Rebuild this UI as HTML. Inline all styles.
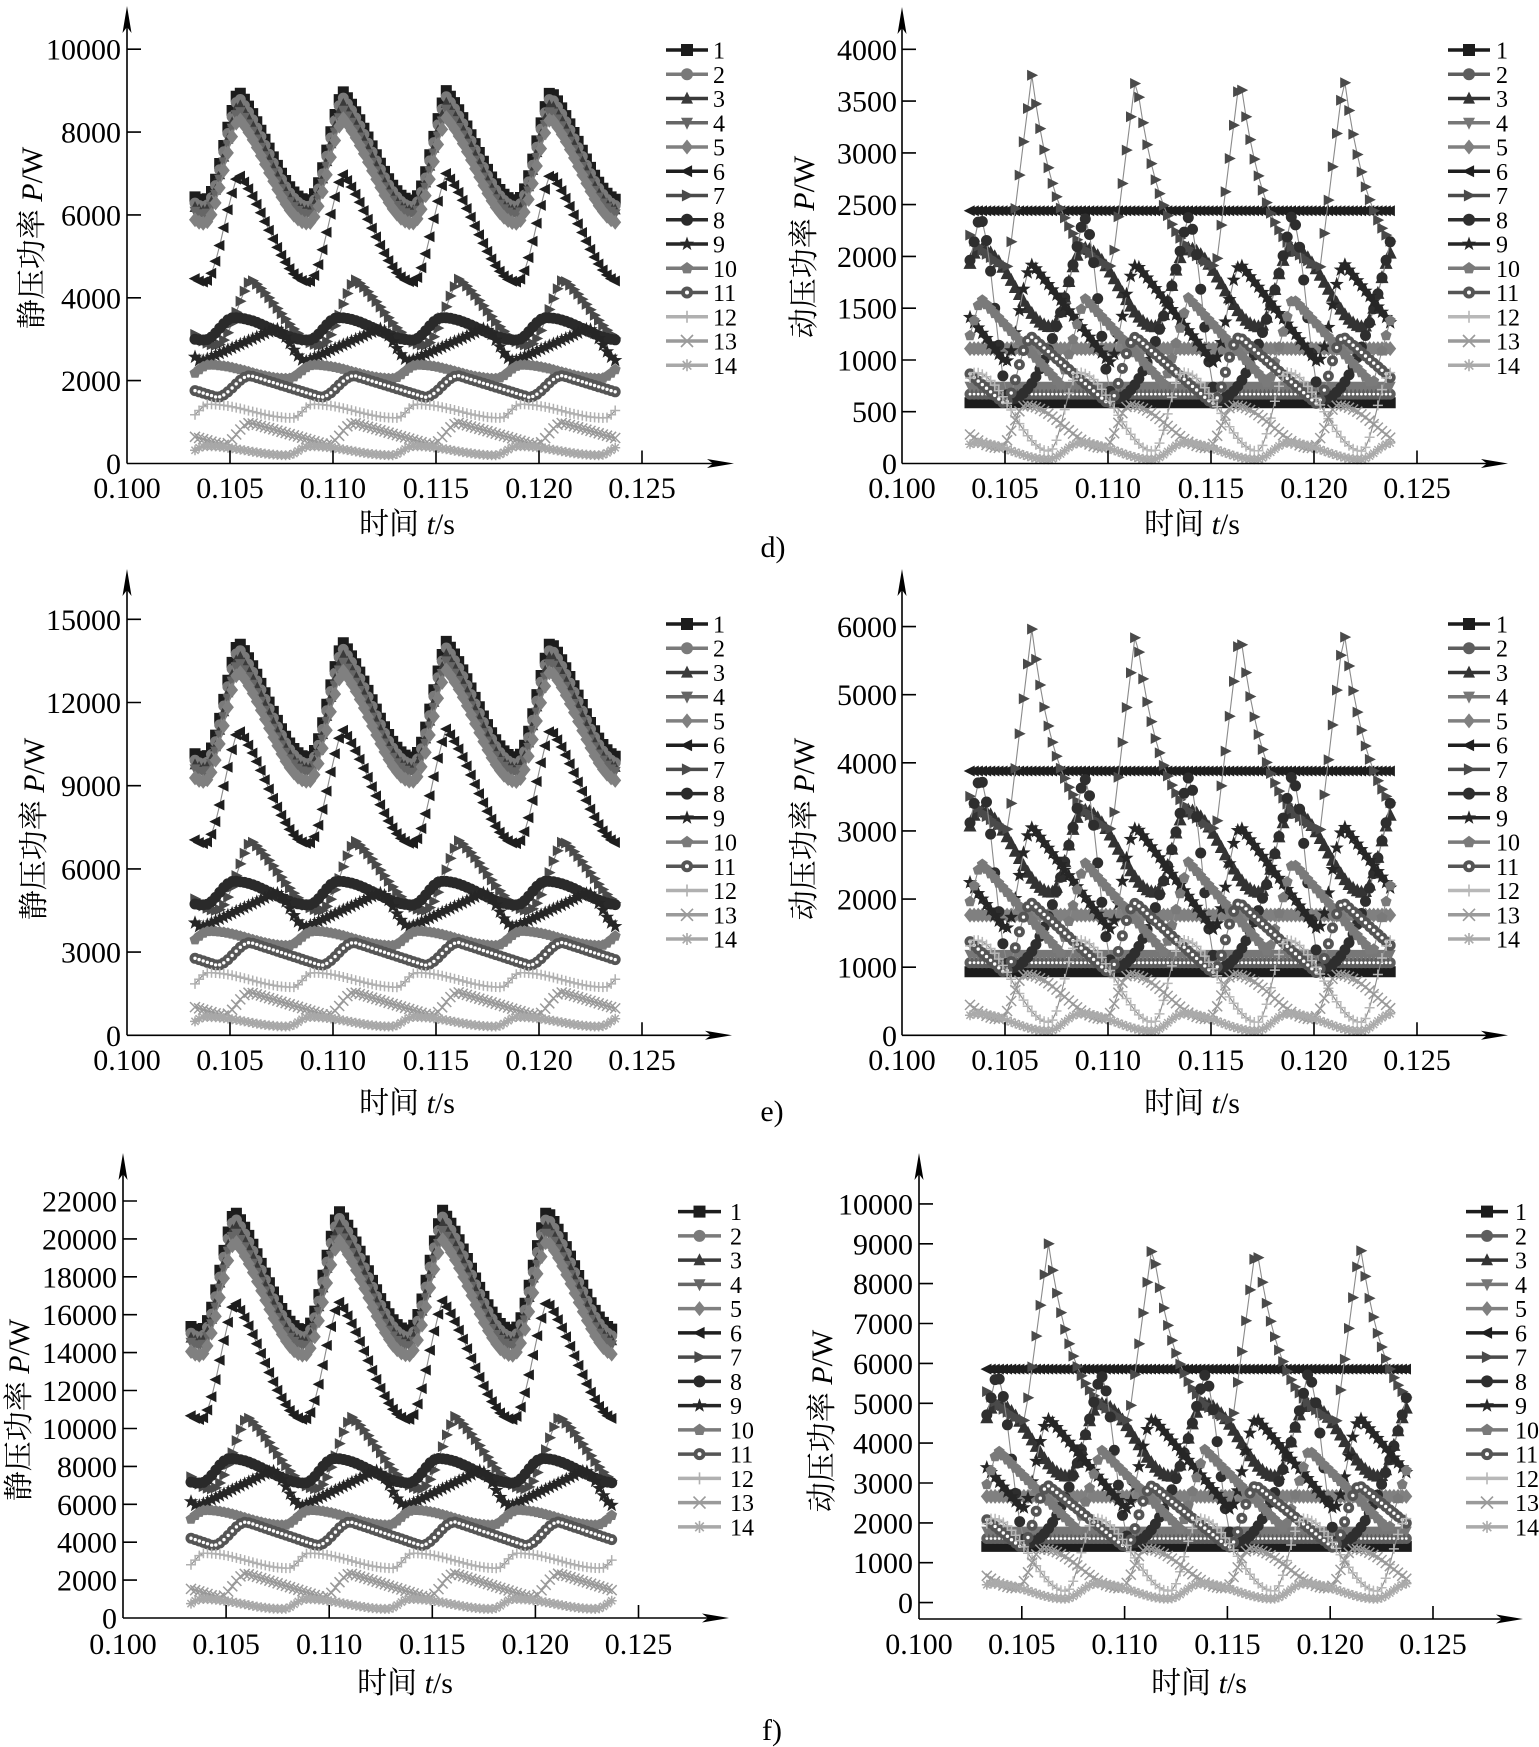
<!DOCTYPE html>
<html><head><meta charset="utf-8">
<style>
html,body{margin:0;padding:0;background:#fff}
svg{display:block}
text{font-family:"Liberation Serif","Noto Serif CJK SC",serif;fill:#000}
</style></head>
<body>
<svg id="s" width="1539" height="1747" viewBox="0 0 1539 1747" xmlns="http://www.w3.org/2000/svg" font-family="'Liberation Serif','Noto Serif CJK SC',serif">
<rect width="1539" height="1747" fill="#fff"/>
<g id="data"></g>

<!-- AXES -->
<g stroke="#000" stroke-width="1.6" fill="none">
<path d="M127 463.5V20M127 463.5H716"/>
<path d="M127 49.2h14M127 132.1h14M127 214.9h14M127 297.8h14M127 380.6h14M230 463.5v-13M333 463.5v-13M436 463.5v-13M539 463.5v-13M642 463.5v-13"/>
<path d="M902 463.5V20M902 463.5H1490"/>
<path d="M902 49.3h14M902 101.1h14M902 152.9h14M902 204.6h14M902 256.4h14M902 308.2h14M902 360h14M902 411.7h14M1005 463.5v-13M1108 463.5v-13M1211 463.5v-13M1314 463.5v-13M1417 463.5v-13"/>
<path d="M127 1035.3V583M127 1035.3H714"/>
<path d="M127 619.3h14M127 702.5h14M127 785.7h14M127 868.9h14M127 952.1h14M230 1035.3v-13M333 1035.3v-13M436 1035.3v-13M539 1035.3v-13M642 1035.3v-13"/>
<path d="M902 1035.3V583M902 1035.3H1490"/>
<path d="M902 626.6h14M902 694.7h14M902 762.8h14M902 830.9h14M902 899.1h14M902 967.2h14M1005 1035.3v-13M1108 1035.3v-13M1211 1035.3v-13M1314 1035.3v-13M1417 1035.3v-13"/>
<path d="M123 1618V1167M123 1618H711"/>
<path d="M123 1201h14M123 1238.9h14M123 1276.8h14M123 1314.7h14M123 1352.6h14M123 1390.5h14M123 1428.5h14M123 1466.4h14M123 1504.3h14M123 1542.2h14M123 1580.1h14M226.1 1618v-13M329.2 1618v-13M432.3 1618v-13M535.4 1618v-13M638.5 1618v-13"/>
<path d="M919 1619V1167M919 1619H1505"/>
<path d="M919 1203.9h14M919 1243.8h14M919 1283.6h14M919 1323.5h14M919 1363.4h14M919 1403.3h14M919 1443.1h14M919 1483h14M919 1522.9h14M919 1562.7h14M919 1602.6h14M1021.8 1619v-13M1124.6 1619v-13M1227.4 1619v-13M1330.2 1619v-13M1433 1619v-13"/>
</g>
<g fill="#000" stroke="none">
<polygon points="127,6 131.5,33 127,27 122.5,33"/>
<polygon points="734,463.5 707,459 713,463.5 707,468"/>
<polygon points="902,7 906.5,34 902,28 897.5,34"/>
<polygon points="1508,463.5 1481,459 1487,463.5 1481,468"/>
<polygon points="127,569 131.5,596 127,590 122.5,596"/>
<polygon points="732,1035.3 705,1030.8 711,1035.3 705,1039.8"/>
<polygon points="902,569 906.5,596 902,590 897.5,596"/>
<polygon points="1508,1035.3 1481,1030.8 1487,1035.3 1481,1039.8"/>
<polygon points="123,1153 127.5,1180 123,1174 118.5,1180"/>
<polygon points="729,1618 702,1613.5 708,1618 702,1622.5"/>
<polygon points="919,1153 923.5,1180 919,1174 914.5,1180"/>
<polygon points="1523,1619 1496,1614.5 1502,1619 1496,1623.5"/>
</g>

<!-- Y TICK LABELS -->
<g font-size="30" text-anchor="end">
<text x="121" y="59.7">10000</text><text x="121" y="142.6">8000</text><text x="121" y="225.4">6000</text><text x="121" y="308.3">4000</text><text x="121" y="391.1">2000</text><text x="121" y="474">0</text>
<text x="897" y="59.8">4000</text><text x="897" y="111.6">3500</text><text x="897" y="163.4">3000</text><text x="897" y="215.1">2500</text><text x="897" y="266.9">2000</text><text x="897" y="318.7">1500</text><text x="897" y="370.5">1000</text><text x="897" y="422.2">500</text><text x="897" y="474">0</text>
<text x="121" y="629.8">15000</text><text x="121" y="713">12000</text><text x="121" y="796.2">9000</text><text x="121" y="879.4">6000</text><text x="121" y="962.6">3000</text><text x="121" y="1045.8">0</text>
<text x="897" y="637.1">6000</text><text x="897" y="705.2">5000</text><text x="897" y="773.3">4000</text><text x="897" y="841.4">3000</text><text x="897" y="909.6">2000</text><text x="897" y="977.7">1000</text><text x="897" y="1045.8">0</text>
<text x="117" y="1211.5">22000</text><text x="117" y="1249.4">20000</text><text x="117" y="1287.3">18000</text><text x="117" y="1325.2">16000</text><text x="117" y="1363.1">14000</text><text x="117" y="1401">12000</text><text x="117" y="1439">10000</text><text x="117" y="1476.9">8000</text><text x="117" y="1514.8">6000</text><text x="117" y="1552.7">4000</text><text x="117" y="1590.6">2000</text><text x="117" y="1628.5">0</text>
<text x="913" y="1214.4">10000</text><text x="913" y="1254.3">9000</text><text x="913" y="1294.1">8000</text><text x="913" y="1334">7000</text><text x="913" y="1373.9">6000</text><text x="913" y="1413.8">5000</text><text x="913" y="1453.6">4000</text><text x="913" y="1493.5">3000</text><text x="913" y="1533.4">2000</text><text x="913" y="1573.2">1000</text><text x="913" y="1613.1">0</text>
</g>

<!-- X TICK LABELS -->
<g font-size="30" text-anchor="middle">
<text x="127" y="498">0.100</text><text x="230" y="498">0.105</text><text x="333" y="498">0.110</text><text x="436" y="498">0.115</text><text x="539" y="498">0.120</text><text x="642" y="498">0.125</text>
<text x="902" y="498">0.100</text><text x="1005" y="498">0.105</text><text x="1108" y="498">0.110</text><text x="1211" y="498">0.115</text><text x="1314" y="498">0.120</text><text x="1417" y="498">0.125</text>
<text x="127" y="1070">0.100</text><text x="230" y="1070">0.105</text><text x="333" y="1070">0.110</text><text x="436" y="1070">0.115</text><text x="539" y="1070">0.120</text><text x="642" y="1070">0.125</text>
<text x="902" y="1070">0.100</text><text x="1005" y="1070">0.105</text><text x="1108" y="1070">0.110</text><text x="1211" y="1070">0.115</text><text x="1314" y="1070">0.120</text><text x="1417" y="1070">0.125</text>
<text x="123" y="1654">0.100</text><text x="226.1" y="1654">0.105</text><text x="329.2" y="1654">0.110</text><text x="432.3" y="1654">0.115</text><text x="535.4" y="1654">0.120</text><text x="638.5" y="1654">0.125</text>
<text x="919" y="1654">0.100</text><text x="1021.8" y="1654">0.105</text><text x="1124.6" y="1654">0.110</text><text x="1227.4" y="1654">0.115</text><text x="1330.2" y="1654">0.120</text><text x="1433" y="1654">0.125</text>
</g>

<!-- AXIS TITLES -->
<g font-size="30" text-anchor="middle">
<text x="407" y="534">时间 <tspan font-style="italic">t</tspan>/s</text>
<text x="1192" y="534">时间 <tspan font-style="italic">t</tspan>/s</text>
<text x="407" y="1113">时间 <tspan font-style="italic">t</tspan>/s</text>
<text x="1192" y="1113">时间 <tspan font-style="italic">t</tspan>/s</text>
<text x="405" y="1693">时间 <tspan font-style="italic">t</tspan>/s</text>
<text x="1199" y="1693">时间 <tspan font-style="italic">t</tspan>/s</text>
<text transform="translate(42,238) rotate(-90)">静压功率 <tspan font-style="italic">P</tspan>/W</text>
<text transform="translate(44,829) rotate(-90)">静压功率 <tspan font-style="italic">P</tspan>/W</text>
<text transform="translate(29,1410) rotate(-90)">静压功率 <tspan font-style="italic">P</tspan>/W</text>
<text transform="translate(814,247) rotate(-90)">动压功率 <tspan font-style="italic">P</tspan>/W</text>
<text transform="translate(814,829) rotate(-90)">动压功率 <tspan font-style="italic">P</tspan>/W</text>
<text transform="translate(832,1421) rotate(-90)">动压功率 <tspan font-style="italic">P</tspan>/W</text>
<text x="773" y="557">d)</text>
<text x="772" y="1121">e)</text>
<text x="772" y="1740">f)</text>
</g>

<!-- LEGEND NUMBERS -->
<g font-size="24">
<text><tspan x="713" y="58.5">1</tspan><tspan x="713" y="82.75">2</tspan><tspan x="713" y="107">3</tspan><tspan x="713" y="131.25">4</tspan><tspan x="713" y="155.5">5</tspan><tspan x="713" y="179.75">6</tspan><tspan x="713" y="204">7</tspan><tspan x="713" y="228.25">8</tspan><tspan x="713" y="252.5">9</tspan><tspan x="713" y="276.75">10</tspan><tspan x="713" y="301">11</tspan><tspan x="713" y="325.25">12</tspan><tspan x="713" y="349.5">13</tspan><tspan x="713" y="373.75">14</tspan></text>
<text><tspan x="1496" y="58.5">1</tspan><tspan x="1496" y="82.75">2</tspan><tspan x="1496" y="107">3</tspan><tspan x="1496" y="131.25">4</tspan><tspan x="1496" y="155.5">5</tspan><tspan x="1496" y="179.75">6</tspan><tspan x="1496" y="204">7</tspan><tspan x="1496" y="228.25">8</tspan><tspan x="1496" y="252.5">9</tspan><tspan x="1496" y="276.75">10</tspan><tspan x="1496" y="301">11</tspan><tspan x="1496" y="325.25">12</tspan><tspan x="1496" y="349.5">13</tspan><tspan x="1496" y="373.75">14</tspan></text>
<text><tspan x="713" y="632.5">1</tspan><tspan x="713" y="656.7">2</tspan><tspan x="713" y="681">3</tspan><tspan x="713" y="705.2">4</tspan><tspan x="713" y="729.4">5</tspan><tspan x="713" y="753.7">6</tspan><tspan x="713" y="777.9">7</tspan><tspan x="713" y="802.1">8</tspan><tspan x="713" y="826.3">9</tspan><tspan x="713" y="850.6">10</tspan><tspan x="713" y="874.8">11</tspan><tspan x="713" y="899">12</tspan><tspan x="713" y="923.3">13</tspan><tspan x="713" y="947.5">14</tspan></text>
<text><tspan x="1496" y="632.5">1</tspan><tspan x="1496" y="656.7">2</tspan><tspan x="1496" y="681">3</tspan><tspan x="1496" y="705.2">4</tspan><tspan x="1496" y="729.4">5</tspan><tspan x="1496" y="753.7">6</tspan><tspan x="1496" y="777.9">7</tspan><tspan x="1496" y="802.1">8</tspan><tspan x="1496" y="826.3">9</tspan><tspan x="1496" y="850.6">10</tspan><tspan x="1496" y="874.8">11</tspan><tspan x="1496" y="899">12</tspan><tspan x="1496" y="923.3">13</tspan><tspan x="1496" y="947.5">14</tspan></text>
<text><tspan x="730" y="1220.1">1</tspan><tspan x="730" y="1244.35">2</tspan><tspan x="730" y="1268.6">3</tspan><tspan x="730" y="1292.85">4</tspan><tspan x="730" y="1317.1">5</tspan><tspan x="730" y="1341.35">6</tspan><tspan x="730" y="1365.6">7</tspan><tspan x="730" y="1389.85">8</tspan><tspan x="730" y="1414.1">9</tspan><tspan x="730" y="1438.35">10</tspan><tspan x="730" y="1462.6">11</tspan><tspan x="730" y="1486.85">12</tspan><tspan x="730" y="1511.1">13</tspan><tspan x="730" y="1535.35">14</tspan></text>
<text><tspan x="1515" y="1220.1">1</tspan><tspan x="1515" y="1244.35">2</tspan><tspan x="1515" y="1268.6">3</tspan><tspan x="1515" y="1292.85">4</tspan><tspan x="1515" y="1317.1">5</tspan><tspan x="1515" y="1341.35">6</tspan><tspan x="1515" y="1365.6">7</tspan><tspan x="1515" y="1389.85">8</tspan><tspan x="1515" y="1414.1">9</tspan><tspan x="1515" y="1438.35">10</tspan><tspan x="1515" y="1462.6">11</tspan><tspan x="1515" y="1486.85">12</tspan><tspan x="1515" y="1511.1">13</tspan><tspan x="1515" y="1535.35">14</tspan></text>
</g>
</svg>

<script>
(function(){
var T=0.00505, NS='http://www.w3.org/2000/svg';
var D=document.getElementById('data');
function F(n){return Math.round(n*10)/10;}
function g(k,u){
  switch(k){
    case 'l': return u;
    case 'q': return u*u;
    case 's': return Math.sin(Math.PI*u/2);
    case 'e': return (1-Math.exp(-3*u))/(1-Math.exp(-3));
    case 'p': return 0.5*(1-Math.cos(Math.PI*u))/2+0.5*(1-Math.cos(Math.PI*u/2));
    case 'd': return 0.5*(1-Math.cos(Math.PI*u))/2+0.5*Math.sin(Math.PI*u/2);
    default: return (1-Math.cos(Math.PI*u))/2;
  }
}
function val(S,t){
  if(S.k!==undefined) return S.k;
  var fall=S.f, rise=T-fall;
  var s=((t-S.tp)%T+T)%T, f;
  if(s<fall){ f=1-g(S.fs||'c', s/fall); }
  else { f=g(S.rs||'c',(s-fall)/rise); }
  return S.lo+(S.hi-S.lo)*f;
}
function mk(m,x,y,r){
  x=F(x); y=F(y);
  switch(m){
    case 'sq': return 'M'+F(x-r)+' '+F(y-r)+'h'+F(2*r)+'v'+F(2*r)+'h'+F(-2*r)+'z';
    case 'ci': case 'cw': return 'M'+F(x-r)+' '+y+'a'+r+' '+r+' 0 1 0 '+F(2*r)+' 0a'+r+' '+r+' 0 1 0 '+F(-2*r)+' 0z';
    case 'tu': return 'M'+x+' '+F(y-r*1.15)+'L'+F(x+r)+' '+F(y+r*.85)+'L'+F(x-r)+' '+F(y+r*.85)+'z';
    case 'td': return 'M'+x+' '+F(y+r*1.15)+'L'+F(x+r)+' '+F(y-r*.85)+'L'+F(x-r)+' '+F(y-r*.85)+'z';
    case 'tl': return 'M'+F(x-r*1.15)+' '+y+'L'+F(x+r*.85)+' '+F(y-r)+'L'+F(x+r*.85)+' '+F(y+r)+'z';
    case 'tr': return 'M'+F(x+r*1.15)+' '+y+'L'+F(x-r*.85)+' '+F(y-r)+'L'+F(x-r*.85)+' '+F(y+r)+'z';
    case 'di': return 'M'+x+' '+F(y-r*1.25)+'L'+F(x+r)+' '+y+'L'+x+' '+F(y+r*1.25)+'L'+F(x-r)+' '+y+'z';
    case 'st': case 'pe': {
      var n=(m=='st')?10:5, out='';
      for(var i=0;i<n;i++){
        var a=-Math.PI/2+i*2*Math.PI/n;
        var rr=(m=='st')?(i%2?r*0.5:r*1.25):r*1.05;
        out+=(i?'L':'M')+F(x+rr*Math.cos(a))+' '+F(y+rr*Math.sin(a));
      }
      return out+'z';
    }
    case 'pl': return 'M'+F(x-r)+' '+y+'h'+F(2*r)+'M'+x+' '+F(y-r)+'v'+F(2*r);
    case 'xx': return 'M'+F(x-r)+' '+F(y-r)+'l'+F(2*r)+' '+F(2*r)+'M'+F(x+r)+' '+F(y-r)+'l'+F(-2*r)+' '+F(2*r);
    case 'as': var q=r*0.72; return 'M'+F(x-r)+' '+y+'h'+F(2*r)+'M'+x+' '+F(y-r)+'v'+F(2*r)+'M'+F(x-q)+' '+F(y-q)+'l'+F(2*q)+' '+F(2*q)+'M'+F(x+q)+' '+F(y-q)+'l'+F(-2*q)+' '+F(2*q);
  }
  return '';
}
var STROKE={pl:1,xx:1,as:1};
function add(attrs){var e=document.createElementNS(NS,'path');for(var k in attrs)e.setAttribute(k,attrs[k]);D.appendChild(e);return e;}

var ST=[
 {m:'sq',c:'#1c1c1c',tp:.1054,f:.0034,lo:6350,hi:9000,fs:'d',rs:'p'},
 {m:'ci',c:'#7a7a7a',tp:.1054,f:.0034,lo:6200,hi:8850,fs:'d',rs:'p'},
 {m:'tu',c:'#3a3a3a',tp:.1054,f:.0034,lo:6100,hi:8700,fs:'d',rs:'p'},
 {m:'td',c:'#666666',tp:.1054,f:.0034,lo:6000,hi:8550,fs:'d',rs:'p'},
 {m:'di',c:'#808080',tp:.1054,f:.0034,lo:5800,hi:8350,fs:'d',rs:'p'},
 {m:'tl',c:'#1e1e1e',tp:.1054,f:.0034,lo:4380,hi:7000,fs:'d',rs:'p'},
 {m:'tr',c:'#4a4a4a',tp:.1060,f:.0034,lo:2850,hi:4450,fs:'d',rs:'p'},
 {m:'ci',c:'#2a2a2a',tp:.1052,f:.0036,lo:2980,hi:3520},
 {m:'st',c:'#262626',tp:.1072,f:.0015,lo:2470,hi:3250,rs:'l'},
 {m:'pe',c:'#7a7a7a',tp:.1040,f:.0038,lo:2050,hi:2380},
 {m:'cw',c:'#555555',tp:.1060,f:.0034,lo:1600,hi:2120,fs:'l'},
 {m:'pl',c:'#b0b0b0',tp:.10395,f:.0041,lo:1100,hi:1430},
 {m:'xx',c:'#9a9a9a',tp:.1060,f:.0037,lo:450,hi:980,fs:'l'},
 {m:'as',c:'#a8a8a8',tp:.1038,f:.0040,lo:200,hi:420}
];
var DY=[
 {m:'sq',c:'#1c1c1c',k:587},
 {m:'ci',c:'#5e5e5e',k:670,w:1},
 {m:'tu',c:'#333333',tp:.10375,f:.0035,lo:1320,hi:2080,r:6.5},
 {m:'td',c:'#777777',k:745},
 {m:'di',c:'#808080',k:1110},
 {m:'tl',c:'#1e1e1e',k:2440},
 {m:'tr',c:'#4a4a4a',tp:.1063,f:.0039,lo:1900,hi:3750,fs:'e',rs:'l'},
 {m:'ci',c:'#2e2e2e',tp:.10375,f:.0015,lo:620,hi:2380,rs:'q'},
 {m:'st',c:'#262626',tp:.10635,f:.0037,lo:980,hi:1920,fs:'l'},
 {m:'pe',c:'#7a7a7a',tp:.1038,f:.0039,lo:760,hi:1600,fs:'l',rs:'l'},
 {m:'cw',c:'#555555',tp:.1063,f:.0037,lo:580,hi:1220,fs:'l'},
 {m:'pl',c:'#b8b8b8',tp:.10355,f:.0036,lo:120,hi:880},
 {m:'xx',c:'#9a9a9a',tp:.1060,f:.0038,lo:150,hi:560},
 {m:'as',c:'#aaaaaa',tp:.1036,f:.0035,lo:40,hi:200}
];
var P=[
 {x0:127,sx:20600,y0:463.5,sy:0.04143,sc:1,dyn:0,lg:[666,708],ly:50,ls:24.25},
 {x0:902,sx:20600,y0:463.5,sy:0.10355,sc:1,dyn:1,lg:[1448,1490],ly:50,ls:24.25},
 {x0:127,sx:20600,y0:1035.3,sy:0.027733,sc:1.578,dyn:0,lg:[666,708],ly:624,ls:24.23},
 {x0:902,sx:20600,y0:1035.3,sy:0.06812,sc:1.59,dyn:1,lg:[1448,1490],ly:624,ls:24.23},
 {x0:123,sx:20620,y0:1618,sy:0.018955,sc:2.39,dyn:0,lg:[678,721],ly:1211.6,ls:24.25},
 {x0:919,sx:20560,y0:1602.6,sy:0.03987,sc:2.40,dyn:1,lg:[1466,1508],ly:1211.6,ls:24.25}
];
P.forEach(function(p){
  var SER=p.dyn?DY:ST;
  SER.forEach(function(S,idx){
    var line='', mks='', inner='';
    var r=S.r||(S.m=='di'||S.m=='st'?6:5.5);
    if(STROKE[S.m]) r=5;
    for(var i=0;i<=102;i++){
      var t=0.1033+i*0.0002;
      var v=val(S,t)*p.sc;
      var x=p.x0+(t-0.1)*p.sx, y=p.y0-v*p.sy;
      line+=(i?'L':'M')+F(x)+' '+F(y);
      mks+=mk(S.m,x,y,r);
      if(S.m=='cw') inner+=mk('ci',x,y,F(r*0.3));
      if(S.w) inner+=mk('ci',x,y,1.4);
    }
    add({d:line,fill:'none',stroke:'#8a8a8a','stroke-width':1.1});
    if(STROKE[S.m]) add({d:mks,fill:'none',stroke:S.c,'stroke-width':1.5});
    else add({d:mks,fill:S.c});
    if(inner) add({d:inner,fill:'#fff'});
    var ly=p.ly+idx*p.ls, lx=(p.lg[0]+p.lg[1])/2;
    add({d:'M'+p.lg[0]+' '+F(ly)+'H'+p.lg[1],stroke:S.c,'stroke-width':3.5,fill:'none'});
    var lm=mk(S.m,lx,ly,6);
    if(STROKE[S.m]) add({d:lm,fill:'none',stroke:S.c,'stroke-width':1.6});
    else add({d:lm,fill:S.c});
    if(S.m=='cw') add({d:mk('ci',lx,ly,2),fill:'#fff'});
  });
});
})();
</script>
</body></html>
